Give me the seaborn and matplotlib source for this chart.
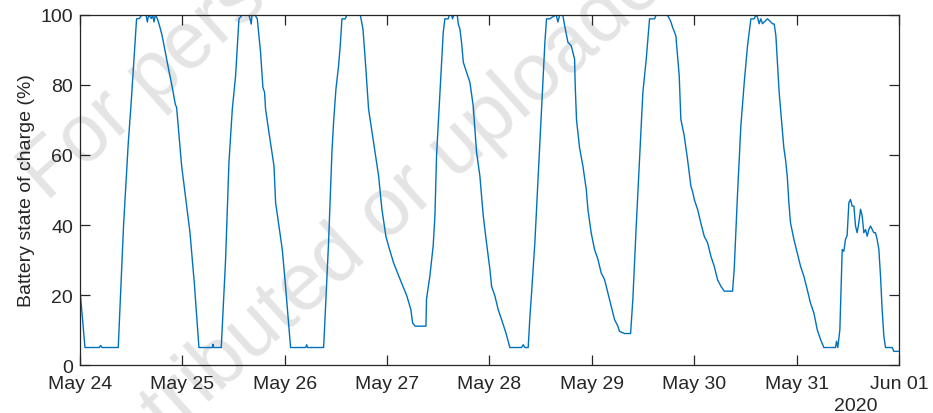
import numpy as np
import pandas as pd
import matplotlib
matplotlib.use("Agg")
import matplotlib.pyplot as plt
import matplotlib.dates as mdates
import seaborn as sns

# ---------------- data ----------------
start_date = "2020-05-24"
end_date = "2020-06-01"
year_label = "2020"
y_label = "Battery state of charge (%)"
y_ticks = [0, 20, 40, 60, 80, 100]
watermark_1 = "For personal use only"
watermark_2 = "not to be redistributed or uploaded"

# elapsed time since May 24 00:00 (days) and battery state of charge (%)
elapsed_days = [
    0.000, 0.049, 0.189, 0.202, 0.215, 0.374, 0.426, 0.472, 0.498, 0.553,
    0.579, 0.605, 0.645, 0.658, 0.671, 0.697, 0.710, 0.723, 0.736, 0.755,
    0.768, 0.801, 0.840, 0.866, 0.905, 0.931, 0.944, 0.993, 1.074, 1.118,
    1.162, 1.295, 1.299, 1.303, 1.380, 1.4225, 1.455, 1.488, 1.520, 1.553,
    1.585, 1.650, 1.660, 1.673, 1.680, 1.710, 1.732, 1.764, 1.787, 1.803,
    1.813, 1.846, 1.895, 1.911, 1.943, 1.976, 2.008, 2.057, 2.205, 2.214,
    2.223, 2.380, 2.402, 2.428, 2.461, 2.477, 2.500, 2.526, 2.542, 2.559,
    2.591, 2.607, 2.738, 2.764, 2.786, 2.819, 2.868, 2.917, 2.949, 2.988,
    3.014, 3.063, 3.128, 3.193, 3.232, 3.249, 3.275, 3.379, 3.385, 3.418,
    3.450, 3.467, 3.483, 3.516, 3.548, 3.564, 3.597, 3.607, 3.630, 3.639,
    3.652, 3.685, 3.695, 3.711, 3.727, 3.744, 3.776, 3.809, 3.841, 3.874,
    3.906, 3.939, 3.971, 4.004, 4.020, 4.053, 4.085, 4.118, 4.160, 4.199,
    4.313, 4.329, 4.346, 4.378, 4.395, 4.411, 4.443, 4.476, 4.508, 4.541,
    4.557, 4.590, 4.619, 4.652, 4.668, 4.684, 4.701, 4.717, 4.733, 4.766,
    4.798, 4.831, 4.837, 4.850, 4.880, 4.912, 4.945, 4.961, 4.993, 5.026,
    5.059, 5.091, 5.124, 5.156, 5.189, 5.221, 5.254, 5.270, 5.319, 5.378,
    5.400, 5.433, 5.465, 5.498, 5.531, 5.563, 5.612, 5.628, 5.700, 5.742,
    5.771, 5.788, 5.820, 5.853, 5.869, 5.902, 5.934, 5.967, 5.983, 6.000,
    6.032, 6.064, 6.097, 6.130, 6.146, 6.162, 6.195, 6.211, 6.227, 6.260,
    6.293, 6.374, 6.390, 6.423, 6.455, 6.488, 6.520, 6.553, 6.585, 6.602,
    6.618, 6.634, 6.650, 6.667, 6.683, 6.715, 6.748, 6.764, 6.781, 6.797,
    6.829, 6.862, 6.875, 6.891, 6.908, 6.924, 6.940, 6.973, 7.005, 7.038,
    7.070, 7.103, 7.135, 7.168, 7.201, 7.233, 7.266, 7.380, 7.389, 7.402,
    7.422, 7.445, 7.461, 7.477, 7.493, 7.510, 7.526, 7.542, 7.559, 7.575,
    7.591, 7.607, 7.624, 7.640, 7.656, 7.673, 7.689, 7.705, 7.721, 7.738,
    7.754, 7.770, 7.786, 7.803, 7.819, 7.835, 7.852, 7.868, 7.933, 7.949,
    7.998,
]
soc_percent = [
    21.6, 5.0, 5.0, 5.6, 5.0, 5.0, 40.0, 63.5, 74.0, 98.9,
    99.0, 100.0, 100.0, 98.0, 100.0, 99.0, 100.0, 98.0, 100.0, 99.0,
    97.9, 94.3, 88.4, 84.5, 78.8, 74.5, 73.6, 56.9, 38.0, 23.0,
    5.0, 5.0, 5.9, 5.0, 5.0, 30.2, 57.8, 73.1, 82.6, 98.9,
    100.0, 100.0, 99.0, 97.4, 100.0, 100.0, 98.9, 89.3, 79.3, 77.9,
    73.1, 66.4, 56.9, 46.4, 39.7, 33.0, 22.5, 5.0, 5.0, 5.8,
    5.0, 5.0, 18.7, 34.9, 60.7, 69.3, 78.8, 85.5, 91.2, 98.9,
    98.9, 100.0, 100.0, 96.0, 87.4, 73.1, 63.5, 54.0, 44.5, 36.8,
    34.0, 29.2, 24.4, 19.7, 15.8, 12.0, 11.1, 11.1, 18.9, 25.5,
    34.1, 42.7, 60.0, 78.0, 95.0, 98.9, 98.9, 100.0, 100.0, 98.9,
    100.0, 100.0, 97.4, 96.0, 92.2, 86.5, 83.6, 80.7, 74.0, 60.7,
    54.0, 42.6, 34.9, 27.3, 22.5, 19.7, 15.8, 13.0, 9.2, 5.0,
    5.0, 5.8, 5.0, 5.0, 13.9, 20.6, 34.9, 54.0, 73.1, 92.2,
    98.9, 98.9, 99.5, 100.0, 98.0, 99.8, 100.0, 99.8, 97.1, 92.2,
    91.2, 87.4, 80.0, 70.0, 62.0, 56.9, 50.2, 44.5, 37.8, 33.0,
    30.2, 26.3, 24.4, 20.6, 16.8, 13.0, 11.1, 9.6, 9.0, 9.0,
    18.7, 39.7, 58.8, 77.9, 87.4, 98.9, 98.9, 100.0, 100.0, 99.8,
    98.1, 96.5, 94.1, 82.6, 70.2, 65.5, 58.8, 51.1, 49.6, 47.3,
    44.5, 40.6, 36.8, 34.9, 33.0, 31.1, 28.2, 26.3, 24.4, 22.5,
    21.1, 21.1, 27.3, 49.2, 68.3, 80.7, 91.2, 98.9, 98.9, 100.0,
    99.3, 97.5, 98.9, 97.5, 98.0, 98.9, 98.0, 97.5, 97.4, 94.1,
    77.9, 66.4, 62.0, 58.8, 54.0, 46.4, 40.6, 35.9, 32.1, 28.2,
    25.4, 21.6, 17.7, 14.9, 10.1, 7.3, 5.0, 5.0, 6.8, 5.0,
    10.1, 33.0, 32.5, 35.9, 37.0, 46.4, 47.3, 45.4, 45.4, 39.7,
    37.8, 40.6, 44.5, 42.6, 37.8, 38.7, 36.8, 38.7, 39.7, 38.7,
    37.8, 37.8, 35.9, 33.0, 25.4, 15.8, 8.2, 5.0, 5.0, 3.9,
    3.9,
]

# ---------------- style ----------------
sns.set_theme(style="ticks")
plt.rcParams["font.family"] = ["Liberation Sans", "DejaVu Sans"]
axis_color = "#262626"
line_color = "#0072BD"

fig = plt.figure(figsize=(9.33, 4.14), dpi=100)
fig.patch.set_facecolor("white")

# watermark (behind everything)
fig.text(0.05, 0.511, watermark_1, rotation=42, rotation_mode="anchor",
         ha="left", va="baseline", fontsize=58, color="#e4e4e4", zorder=-5)
fig.text(-0.226, -0.883, watermark_2, rotation=42, rotation_mode="anchor",
         ha="left", va="baseline", fontsize=58, color="#e4e4e4", zorder=-5)

ax = fig.add_axes([0.0857, 0.1159, 0.8779, 0.8455])
ax.set_facecolor("none")

times = pd.Timestamp(start_date) + pd.to_timedelta(elapsed_days, unit="D")
df = pd.DataFrame({"time": times, "soc": soc_percent})
sns.lineplot(data=df, x="time", y="soc", ax=ax, color=line_color,
             linewidth=1.0, estimator=None, sort=True)

ax.set_xlim(pd.Timestamp(start_date), pd.Timestamp(end_date))
ax.set_ylim(0, 100)
ax.xaxis.set_major_locator(mdates.DayLocator())
ax.xaxis.set_major_formatter(mdates.DateFormatter("%b %d"))
ax.set_yticks(y_ticks)

ax.tick_params(direction="in", length=7, width=0.9, top=True, right=True,
               labelsize=14, colors=axis_color)
ax.tick_params(axis="x", pad=7)
ax.tick_params(axis="y", pad=5)
for s in ax.spines.values():
    s.set_visible(True)
    s.set_color(axis_color)
    s.set_linewidth(0.9)

ax.set_xlabel("")
ax.set_ylabel(y_label, fontsize=14, color=axis_color, labelpad=4)
ax.text(0.9475, -0.117, year_label, transform=ax.transAxes, ha="center",
        va="center", fontsize=14, color=axis_color)

fig.savefig("out.png", dpi=100)
